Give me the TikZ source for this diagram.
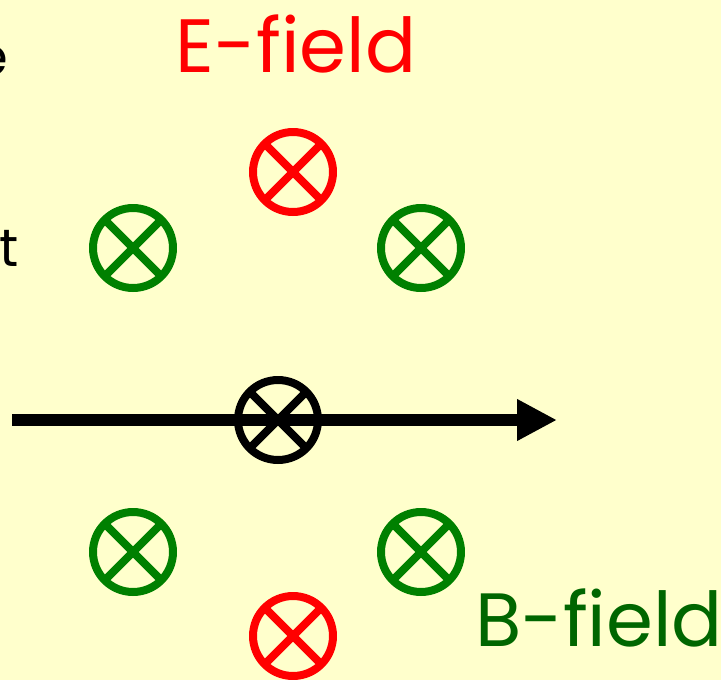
\documentclass[tikz,border=0pt]{standalone}
\usepackage{fontspec}
\setmainfont{Poppins}
\usetikzlibrary{arrows.meta}
\definecolor{paper}{HTML}{FFFFCC}
\definecolor{efield}{HTML}{FF0000}
\definecolor{bfield}{HTML}{008000}
\definecolor{blabel}{HTML}{006600}
\tikzset{
  inward/.style={circle, draw, line width=0.16cm, minimum size=1.6cm, inner sep=0pt,
    path picture={\draw[line width=0.16cm] (path picture bounding box.north west) -- (path picture bounding box.south east)
      (path picture bounding box.north east) -- (path picture bounding box.south west);}},
  redmark/.style={inward, draw=efield, efield},
  greenmark/.style={inward, draw=bfield, bfield},
  blackmark/.style={inward, draw=black},
  title/.style={font=\fontsize{43}{50}\selectfont, anchor=base},
  clipped/.style={font=\fontsize{30}{36}\selectfont, anchor=base east, inner sep=0pt},
  beam/.style={-{Triangle[length=0.8cm, width=0.78cm]}, line width=0.24cm, draw=black}
}
\begin{document}
\begin{tikzpicture}[x=0.02cm, y=-0.02cm]
  \fill[paper] (0,0) rectangle (721,680);
  \useasboundingbox (0,0) rectangle (721,680);
  \clip (0,0) rectangle (721,680);
  % left edge, cut-off words
  \node[clipped] (lefttop) at (9,75) {e};
  \node[clipped] (leftmid) at (19,266) {t};
  % labels
  \node[title, efield] (elabel) at (296,72) {E-field};
  \node[title, blabel] (blabel) at (599,646) {B-field};
  % beam
  \coordinate (beamstart) at (12,420);
  \coordinate (beamtip) at (557,420);
  \draw[beam] (beamstart) -- (beamtip);
  % field marks
  \node[redmark] (etop) at (293,172) {};
  \node[redmark] (ebottom) at (293,636) {};
  \node[greenmark] (bul) at (133,248) {};
  \node[greenmark] (bur) at (421,248) {};
  \node[greenmark] (bll) at (133,552) {};
  \node[greenmark] (blr) at (421,552) {};
  \node[blackmark] (charge) at (278,420) {};
\end{tikzpicture}
\end{document}
